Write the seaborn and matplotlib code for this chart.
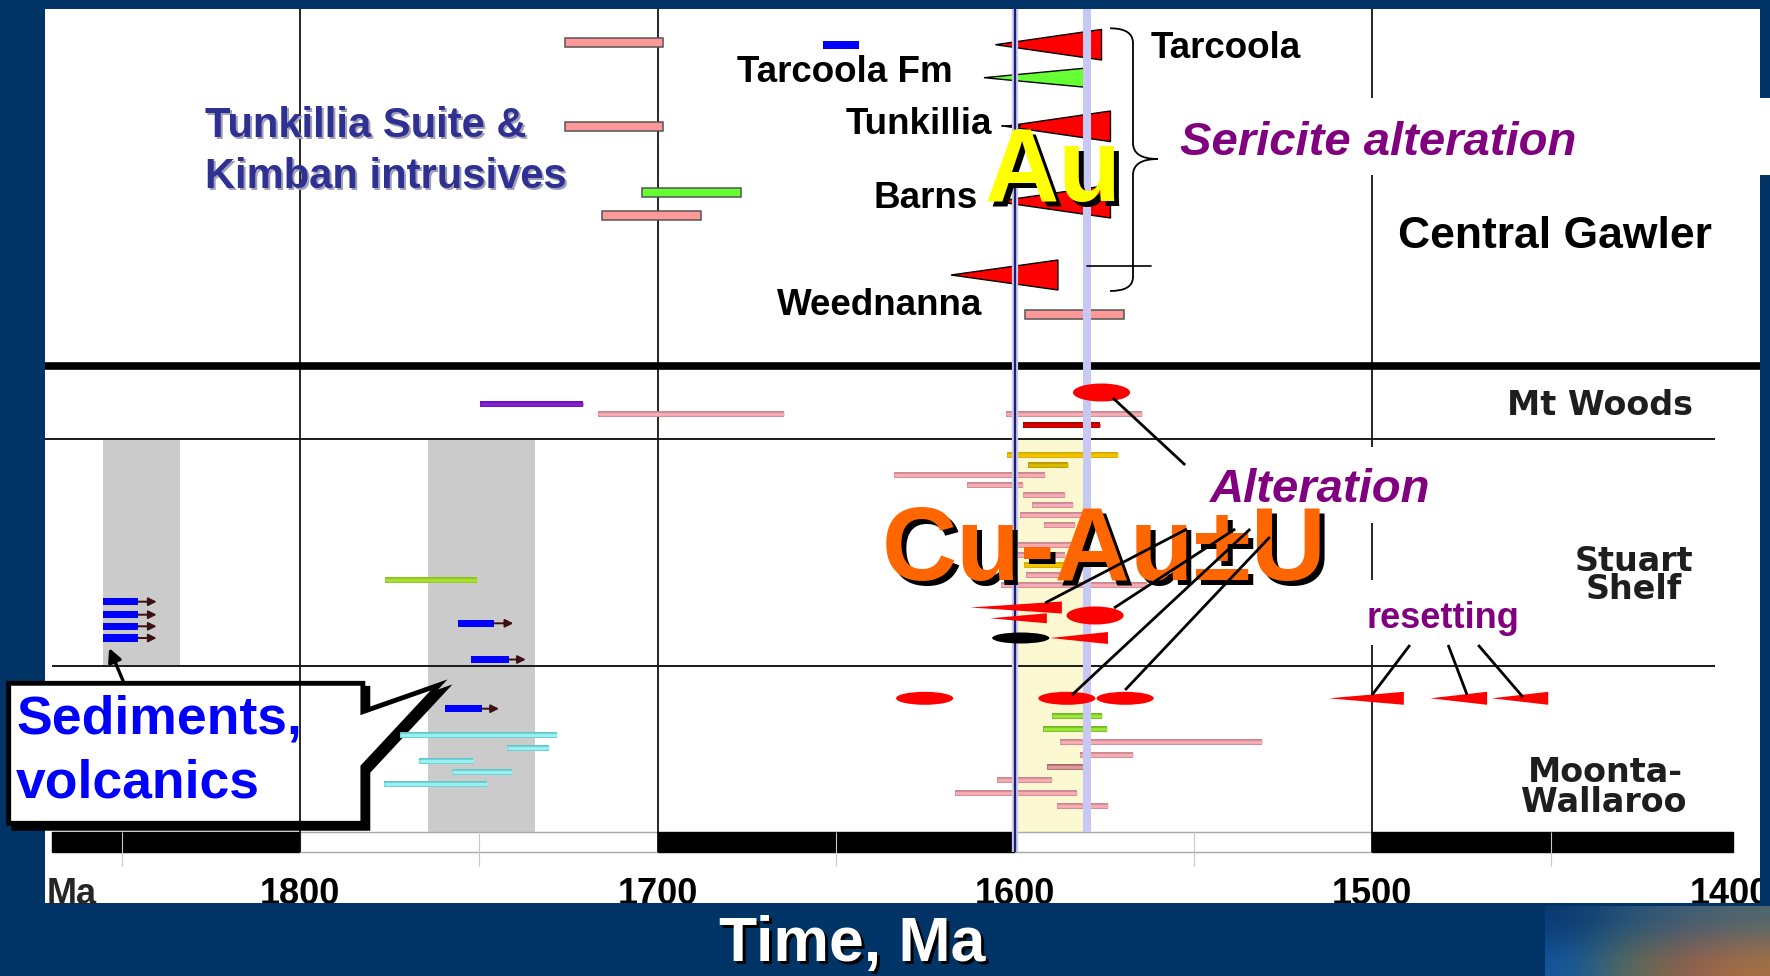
import matplotlib
matplotlib.use("Agg")
import numpy as np
import pandas as pd
import matplotlib.pyplot as plt
import matplotlib.patches as mpatches
from matplotlib.path import Path
from matplotlib.transforms import offset_copy
import seaborn as sns

# ------------------------------------------------------------------ data
# x = age in Ma, rows = vertical lane position of each record

# Central Gawler: intrusive / volcanic age ranges
top_bar_start = [1726.0, 1726.0, 1704.5, 1715.7, 1653.7, 1597.3]
top_bar_end = [1698.5, 1698.5, 1676.6, 1688.0, 1643.6, 1569.5]
top_bar_row = [42.0, 126.0, 192.0, 215.0, 45.0, 314.7]
top_bar_kind = ["pink", "pink", "green", "pink", "blue", "pink"]

# Central Gawler: sericite alteration ages (wedges, old tip -> young base)
ser_names = ["Tarcoola", "Tarcoola Fm", "Tunkillia", "Barns", "Weednanna"]
ser_tip = [1605.5, 1608.7, 1602.8, 1605.3, 1617.9]
ser_base = [1575.8, 1579.0, 1573.3, 1573.3, 1588.0]
ser_row = [44.7, 77.7, 126.3, 201.5, 275.0]
ser_kind = ["red", "green", "red", "red", "red"]

# Olympic Cu-Au province: thin age-range bars
low_start = [1749.8, 1716.8, 1602.4, 1597.8,
             1602.3, 1596.3, 1634.0, 1613.5, 1597.7, 1595.3, 1598.6, 1592.0,
             1603.0, 1601.0, 1597.6, 1597.0, 1604.0, 1776.2,
             1589.7, 1592.1, 1587.3, 1581.8, 1591.1, 1605.1, 1616.8, 1588.3,
             1772.2, 1742.2, 1766.9, 1757.6, 1776.6]
low_end = [1720.9, 1664.6, 1564.6, 1576.2,
           1571.1, 1585.1, 1591.5, 1597.7, 1586.0, 1583.7, 1580.9, 1583.2,
           1580.0, 1586.0, 1586.4, 1584.4, 1563.0, 1750.5,
           1575.7, 1574.3, 1531.0, 1567.0, 1580.9, 1589.7, 1582.7, 1573.9,
           1728.1, 1730.5, 1751.8, 1740.9, 1747.7]
low_row = [404.0, 414.0, 414.0, 424.5,
           455.0, 465.0, 475.0, 485.0, 495.0, 505.0, 515.0, 525.0,
           545.0, 555.0, 565.0, 575.0, 585.0, 579.5,
           716.0, 729.3, 742.0, 754.7, 767.0, 780.3, 792.7, 806.0,
           735.3, 747.7, 760.8, 772.0, 784.0]
low_kind = ["purple", "pink", "pink", "red",
            "gold", "gold2", "pink", "pink", "pink", "pink", "pink", "pink",
            "pink", "pink", "gold", "pink", "pink", "lime",
            "green", "green", "pink", "pink", "brown", "pink", "pink", "pink",
            "cyan", "cyan", "cyan", "cyan", "cyan"]

# sediments / volcanics maximum ages (bar + arrow toward younger)
sed_start = [1855.3, 1855.3, 1855.3, 1855.3, 1755.8, 1752.2, 1759.4]
sed_end = [1845.4, 1845.4, 1845.4, 1845.4, 1745.7, 1741.7, 1749.3]
sed_arrow = [1840.2, 1840.2, 1840.2, 1840.2, 1740.4, 1736.9, 1744.4]
sed_row = [601.7, 614.7, 626.3, 638.0, 623.3, 659.5, 708.7]

# alteration ages (ovals)
oval_age = [1575.8, 1577.6, 1598.4, 1625.3, 1585.5, 1569.2]
oval_row = [392.5, 615.5, 638.0, 698.3, 698.3, 698.3]
oval_kind = ["red", "red", "black", "red", "red", "red"]

# alteration / resetting wedges
low_tip = [1612.6, 1607.0, 1590.2, 1512.2, 1483.8, 1466.6]
low_base = [1586.9, 1591.1, 1574.0, 1491.2, 1467.9, 1450.8]
low_wrow = [607.5, 618.3, 638.0, 698.3, 698.3, 698.3]

# grey sedimentation windows
band_start = [1855.3, 1764.2]
band_end = [1833.7, 1734.2]
band_top = [440.0, 440.0]
band_bottom = [665.0, 832.0]

# timescale bar
era_start = [1869.6, 1800, 1700, 1600, 1500]
era_end = [1800, 1700, 1600, 1500, 1399.2]
era_fill = ["black", "white", "black", "white", "black"]

tick_values = [1800, 1700, 1600, 1500, 1400]
tick_labels = ["1800", "1700", "1600", "1500", "1400"]

# ------------------------------------------------------------------ styles
NAVY = "#003366"
sns.set_theme(style="white")
plt.rcParams["font.family"] = ["Liberation Sans", "DejaVu Sans"]
plt.rcParams["axes.unicode_minus"] = False

fill_pal = {"pink": "#F6AAB2", "red": "#D80000", "gold": "#F2C400", "gold2": "#D9B800",
            "purple": "#8420D0", "lime": "#A8E030", "green": "#9BE53A", "brown": "#DC9A98",
            "cyan": "#9AF0F0"}
edge_pal = {"pink": "#C98890", "red": "#B00000", "gold": "#D8A800", "gold2": "#B89A00",
            "purple": "#6A10B0", "lime": "#8CC020", "green": "#70B820", "brown": "#A86A6A",
            "cyan": "#62C8C8"}
top_fill = {"pink": "#FF9999", "green": "#66FF33", "blue": "#0000FF"}
wedge_fill = {"red": "#FF0000", "green": "#66FF33"}
ser_half = [15.3, 10.0, 15.3, 16.5, 15.0]
low_half = [6.0, 5.0, 6.0, 6.5, 6.5, 6.5]
oval_h = [18, 18, 11, 13, 13, 13]

fig = plt.figure(figsize=(17.7, 9.76), dpi=100, facecolor=NAVY)
ax = fig.add_axes([44.8 / 1770, 73 / 976, 1715 / 1770, 894 / 976])
ax.set_facecolor("white")

# background bands
for s, e, t, b in zip(band_start, band_end, band_top, band_bottom):
    ax.fill_betweenx([t, b], s, e, color="#CBCBCB", lw=0, zorder=1)
ax.fill_betweenx([440, 832], 1599.7, 1581.0, color="#FBF8D2", lw=0, zorder=1)

# timescale bar
ax.barh([842] * len(era_start), [s - e for s, e in zip(era_start, era_end)], left=era_end,
        height=19.4, color=era_fill,
        edgecolor=["black" if f == "black" else "#A8A8A8" for f in era_fill],
        linewidth=1, zorder=2)
ax.vlines([1850, 1750, 1650, 1550, 1450], 832, 866, colors="#C8C8C8", lw=0.8, zorder=2.6)

# grid lines
ax.vlines([1800, 1700, 1500], 9, 852, colors="black", lw=1.2, zorder=2.5)
ax.hlines(365.5, 1871.5, 1391.6, colors="black", lw=5.5, zorder=2.5)
ax.hlines([438.5, 666.3], [1871.4, 1869.5], [1404, 1404], colors="#1A1A1A", lw=1.4, zorder=2.5)

# callout box (Sediments, volcanics)
call_xy = [(1881.6, 683.3), (1782.5, 683.3), (1782.5, 711.7), (1761.2, 685.0),
           (1782.5, 766.7), (1782.5, 823.3), (1881.6, 823.3)]
ax.add_patch(mpatches.Polygon(call_xy, closed=True, facecolor="black", edgecolor="black", lw=3.5,
                              transform=offset_copy(ax.transData, fig=fig, x=5, y=-5, units="dots"),
                              clip_on=False, zorder=2.3))
ax.add_patch(mpatches.Polygon(call_xy, closed=True, facecolor="white", edgecolor="black", lw=3.5,
                              clip_on=False, zorder=2.4))

# white label backings
for x0, x1, y0, y1 in [(1559.4, 1388.7, 98, 175), (1552.1, 1481.0, 446.7, 523.3),
                       (1503.4, 1457.2, 580, 645)]:
    ax.add_patch(mpatches.Rectangle((x1, y0), x0 - x1, y1 - y0, facecolor="white",
                                    edgecolor="none", clip_on=False, zorder=2.8))

# top bars
for s, e, r, k in zip(top_bar_start, top_bar_end, top_bar_row, top_bar_kind):
    ax.barh(r, s - e, left=e, height=9 if k != "blue" else 8.5, color=top_fill[k],
            edgecolor="#555555" if k != "blue" else "none", linewidth=1.1, zorder=3)

# sericite wedges
for t, b, r, k, hh in zip(ser_tip, ser_base, ser_row, ser_kind, ser_half):
    ax.add_patch(mpatches.Polygon([(t, r), (b, r - hh), (b, r + hh)], closed=True,
                                  facecolor=wedge_fill[k], edgecolor="black", lw=1.0, zorder=3))
ax.plot([1603.6, 1598.6], [126, 126], color="black", lw=1.3, zorder=3)

# thin age bars (seaborn)
rows = []
for i, (s, e, r, k) in enumerate(zip(low_start, low_end, low_row, low_kind)):
    rows.append(dict(Ma=s, row=r, bar=i, kind=k))
    rows.append(dict(Ma=e, row=r, bar=i, kind=k))
df = pd.DataFrame(rows)
sns.lineplot(data=df, x="Ma", y="row", units="bar", estimator=None, hue="kind",
             palette=edge_pal, sort=False, legend=False, lw=4.3, ax=ax, zorder=3,
             solid_capstyle="butt")
sns.lineplot(data=df, x="Ma", y="row", units="bar", estimator=None, hue="kind",
             palette=fill_pal, sort=False, legend=False, lw=2.5, ax=ax, zorder=3.1,
             solid_capstyle="butt")

# sediment bars with arrows
for s, e, a, r in zip(sed_start, sed_end, sed_arrow, sed_row):
    ax.barh(r, s - e, left=e, height=7.5, color="#0000FF", lw=0, zorder=3.2)
    ax.annotate("", xy=(a, r), xytext=(e, r),
                arrowprops=dict(arrowstyle="-|>", color="#3A1010", lw=1.4, mutation_scale=12,
                                shrinkA=0, shrinkB=0), zorder=3.2)

# 1580 / 1600 reference lines
ax.vlines(1579.8, 9, 832, colors="#C8C8F5", lw=5.8, zorder=4)
ax.vlines(1600, 9, 852, colors="#C8C8F0", lw=4.5, zorder=4)
ax.vlines(1600, 9, 852, colors="#1F1F6B", lw=1.6, zorder=4.1)

# ovals and lower wedges
for a, r, k, h in zip(oval_age, oval_row, oval_kind, oval_h):
    ax.add_patch(mpatches.Ellipse((a, r), 16, h, facecolor="#FF0000" if k == "red" else "black",
                                  edgecolor="none", zorder=5))
for t, b, r, hh in zip(low_tip, low_base, low_wrow, low_half):
    ax.add_patch(mpatches.Polygon([(t, r), (b, r - hh), (b, r + hh)], closed=True,
                                  facecolor="#FF0000", edgecolor="none", zorder=5))

# brace
bv = [(1573.4, 28.3), (1567.0, 28.3), (1567.0, 43), (1567.0, 143), (1567.0, 159), (1560.0, 159),
      (1567.0, 159), (1567.0, 175), (1567.0, 277), (1567.0, 291), (1573.4, 291)]
bc = [Path.MOVETO, Path.CURVE3, Path.CURVE3, Path.LINETO, Path.CURVE3, Path.CURVE3,
      Path.CURVE3, Path.CURVE3, Path.LINETO, Path.CURVE3, Path.CURVE3]
ax.add_patch(mpatches.PathPatch(Path(bv, bc), facecolor="none", edgecolor="black", lw=1.3, zorder=5))
ax.plot([1579.8, 1561.9], [265.7, 265.7], color="black", lw=1.2, zorder=5)


def stext(x, y, s, color, shadow=None, dx=4, dy=4, **kw):
    if shadow is not None:
        ax.text(x, y, s, color=shadow,
                transform=offset_copy(ax.transData, fig=fig, x=dx, y=-dy, units="dots"), **kw)
    ax.text(x, y, s, color=color, **kw)


# texts, top panel
lab = dict(fontsize=26.5, fontweight="bold", va="baseline", zorder=6)
stext(1617.4, 82, "Tarcoola Fm", "black", ha="right", **lab)
stext(1562.2, 58, "Tarcoola", "black", ha="left", **lab)
stext(1606.3, 134, "Tunkillia", "black", ha="right", **lab)
stext(1610.5, 208, "Barns", "black", ha="right", **lab)
stext(1609.2, 315, "Weednanna", "black", ha="right", **lab)
stext(1448.9, 248, "Central Gawler", "black", ha="center", fontsize=32, fontweight="bold",
      va="baseline", zorder=6)
stext(1498.4, 155, "Sericite alteration", "#800080", ha="center", fontsize=34,
      fontweight="bold", fontstyle="italic", va="baseline", zorder=6)
tk = dict(fontsize=30, fontweight="bold", va="baseline", ha="left", zorder=6)
stext(1826.8, 137, "Tunkillia Suite &", "#2E3092", shadow="#A0A0B8", dx=2, dy=2, **tk)
stext(1826.8, 188, "Kimban intrusives", "#2E3092", shadow="#A0A0B8", dx=2, dy=2, **tk)
stext(1589.5, 201, "Au", "#FFFF00", shadow="black", dx=5, dy=5, ha="center", fontsize=74,
      fontweight="bold", va="baseline", zorder=6)

# texts, lower panel
rl = dict(fontsize=24, fontweight="bold", va="baseline", ha="center", color="#1E1E1E",
          family=["DejaVu Sans"], zorder=6)
ax.text(1436.3, 415, "Mt Woods", **rl)
ax.text(1426.8, 571, "Stuart", **rl)
ax.text(1426.9, 599, "Shelf", **rl)
ax.text(1434.9, 782, "Moonta-", **rl)
ax.text(1435.3, 812, "Wallaroo", **rl)
stext(1514.7, 502, "Alteration", "#800080", ha="center", fontsize=34, fontweight="bold",
      fontstyle="italic", va="baseline", zorder=6)
stext(1480.2, 628, "resetting", "#800080", ha="center", fontsize=26, fontweight="bold",
      va="baseline", zorder=6)
stext(1575.1, 580, "Cu-Au±U", "#FF6600", shadow="black", dx=5, dy=5, ha="center", fontsize=75,
      fontweight="bold", va="baseline", zorder=6)
sd = dict(fontsize=38.5, fontweight="bold", va="baseline", ha="left", zorder=9, clip_on=False)
ax.text(1879.5, 733, "Sediments,", color="#0000FF", **sd)
ax.text(1879.5, 797, "volcanics", color="#0000FF", **sd)
ax.annotate("", xy=(1853.5, 648), xytext=(1849.5, 681.7),
            arrowprops=dict(arrowstyle="-|>", color="black", lw=2.4, mutation_scale=20,
                            shrinkA=0, shrinkB=0), annotation_clip=False, zorder=9)

# leader lines
leaders = [((1572.6, 398), (1552.4, 465)), ((1591.6, 603), (1551.9, 529)),
           ((1572.3, 608), (1538.4, 529)), ((1584.1, 695), (1534.2, 529)),
           ((1569.2, 690), (1528.7, 537)), ((1500.1, 695), (1489.5, 645)),
           ((1473.5, 695), (1478.8, 645)), ((1457.9, 697), (1470.4, 645))]
for (x0, y0), (x1, y1) in leaders:
    ax.plot([x0, x1], [y0, y1], color="black", lw=2.0, zorder=7, solid_capstyle="butt")

# axes setup
ax.set_xlim(1871.5, 1391.6)
ax.set_ylim(903, 9)
ax.set_xlabel("")
ax.set_ylabel("")
ax.set_yticks([])
ax.grid(False)
for sp in ax.spines.values():
    sp.set_visible(False)
ax.set_xticks(tick_values, labels=tick_labels, fontsize=26, fontweight="bold")
ax.tick_params(axis="x", length=0, pad=-18.7, colors="black", labelbottom=True)
for t in ax.get_xticklabels():
    t.set_clip_box(ax.bbox)
    t.set_clip_on(True)
ax.text(1871.0, 877, "Ma", fontsize=26, fontweight="bold", va="top", ha="left", zorder=6)

# axis title
fig.text(852 / 1770 + 3 / 1770, (976 - 961 - 3) / 976, "Time, Ma", color="black", fontsize=45,
         fontweight="bold", ha="center", va="baseline")
fig.text(852 / 1770, (976 - 961) / 976, "Time, Ma", color="white", fontsize=45,
         fontweight="bold", ha="center", va="baseline")

# decorative map corner
grad = np.array([[[0.04, 0.22, 0.44], [0.14, 0.33, 0.48], [0.24, 0.36, 0.46], [0.30, 0.40, 0.44]],
                 [[0.07, 0.34, 0.62], [0.36, 0.44, 0.32], [0.58, 0.36, 0.30], [0.66, 0.44, 0.26]]])
axm = fig.add_axes([1545 / 1770, 0, 225 / 1770, 70 / 976])
axm.imshow(grad, aspect="auto", interpolation="bicubic")
axm.axis("off")

fig.savefig("out.png", dpi=100, facecolor=NAVY)
